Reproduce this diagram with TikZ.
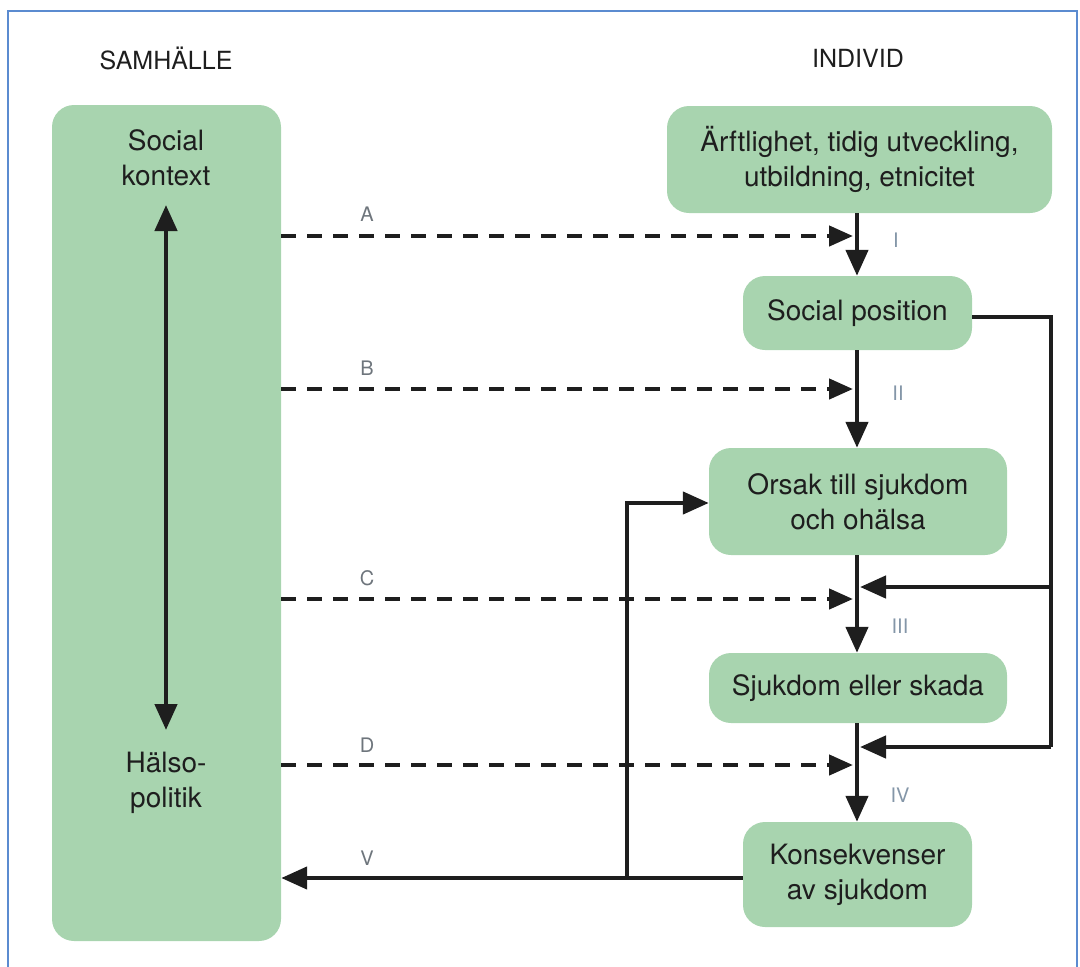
\documentclass[tikz,border=0pt]{standalone}
\usepackage{fontspec}
\setmainfont{TeX Gyre Heros}
\usetikzlibrary{arrows.meta}
\definecolor{boxgreen}{HTML}{A8D4AF}
\definecolor{ink}{HTML}{1E1E1E}
\definecolor{lbl}{HTML}{6E757C}
\definecolor{num}{HTML}{8496A8}
\definecolor{framecol}{HTML}{5B8BD0}
\begin{document}
\begin{tikzpicture}[x=1pt,y=-1pt,
  box/.style={fill=boxgreen,rounded corners=22pt,draw=none,inner sep=0pt,align=center,text=ink,font=\fontsize{28}{35}\selectfont},
  plain/.style={inner sep=0pt,align=center,text=ink,font=\fontsize{28}{35}\selectfont},
  head/.style={inner sep=0pt,text=ink,font=\fontsize{25}{30}\selectfont},
  letter/.style={inner sep=0pt,text=lbl,font=\fontsize{20}{22}\selectfont},
  numeral/.style={inner sep=0pt,text=num,font=\fontsize{20}{22}\selectfont},
  flow/.style={draw=ink,line width=4.5pt,-{Triangle[length=26pt,width=22pt]}},
  dflow/.style={draw=ink,line width=4.5pt,dash pattern=on 15pt off 11pt,-{Triangle[length=24pt,width=20pt]}},
  plainline/.style={draw=ink,line width=4.5pt}]
\useasboundingbox (0,0) rectangle (1080,967);
\draw[framecol,line width=1.5pt] (8,967) -- (8,11) -- (1077,11) -- (1077,967);

% headers
\node[head] (samh) at (166,58) {SAMHÄLLE};
\node[head] (indiv) at (858,58) {INDIVID};

% boxes
\node[box,minimum width=229pt,minimum height=836pt] (L) at (166.5,523) {};
\node[plain] (sk) at (166,158) {Social\\kontext};
\node[plain] (hp) at (166,783) {Hälso-\\politik};
\node[box,minimum width=385pt,minimum height=107pt] (b1) at (859.5,159.5) {Ärftlighet, tidig utveckling,\\utbildning, etnicitet};
\node[box,minimum width=229pt,minimum height=74pt] (b2) at (857.5,313) {Social position};
\node[box,minimum width=298pt,minimum height=107pt] (b3) at (858,501.5) {Orsak till sjukdom\\och ohälsa};
\node[box,minimum width=298pt,minimum height=70pt] (b4) at (858,688) {Sjukdom eller skada};
\node[box,minimum width=229pt,minimum height=105pt] (b5) at (857.5,874.5) {Konsekvenser\\av sjukdom};

% double arrow in left box
\coordinate (dtop) at (166,205);
\coordinate (dbot) at (166,730);
\draw[draw=ink,line width=4.5pt,{Triangle[length=26pt,width=22pt]}-{Triangle[length=26pt,width=22pt]}] (dtop) -- (dbot);

% spine
\coordinate (sp) at (857,0);
\draw[flow] (b1.south -| sp) -- (b2.north -| sp);
\draw[flow] (b2.south -| sp) -- (b3.north -| sp);
\draw[flow] (b3.south -| sp) -- (b4.north -| sp);
\draw[flow] (b4.south -| sp) -- (b5.north -| sp);

% dashed arrows
\coordinate (ea) at (853,236);
\coordinate (eb) at (853,389);
\coordinate (ec) at (853,599);
\coordinate (ed) at (853,765);
\draw[dflow] (L.east |- ea) -- (ea);
\draw[dflow] (L.east |- eb) -- (eb);
\draw[dflow] (L.east |- ec) -- (ec);
\draw[dflow] (L.east |- ed) -- (ed);
\node[letter] (la) at (367,214) {A};
\node[letter] (lb) at (367,368) {B};
\node[letter] (lc) at (367,578) {C};
\node[letter] (ld) at (367,745) {D};
\node[letter] (lv) at (367,858) {V};

\node[numeral] (n1) at (896,240) {I};
\node[numeral] (n2) at (898,393) {II};
\node[numeral] (n3) at (900,626) {III};
\node[numeral] (n4) at (900,795) {IV};

% right feedback
\coordinate (rc) at (1051,317);
\coordinate (r1) at (1051,587);
\coordinate (r2) at (1051,747);
\coordinate (t1) at (860,587);
\coordinate (t2) at (860,747);
\draw[plainline] (b2.east |- rc) -- (rc) -- (r2);
\draw[flow] (r1) -- (t1);
\draw[flow] (r2) -- (t2);

% bottom feedback
\coordinate (bj) at (627,878);
\coordinate (bu) at (627,503);
\draw[flow] (b5.west |- bj) -- (L.east |- bj);
\draw[flow] (bj) -- (bu) -- (b3.west |- bu);
\end{tikzpicture}
\end{document}
